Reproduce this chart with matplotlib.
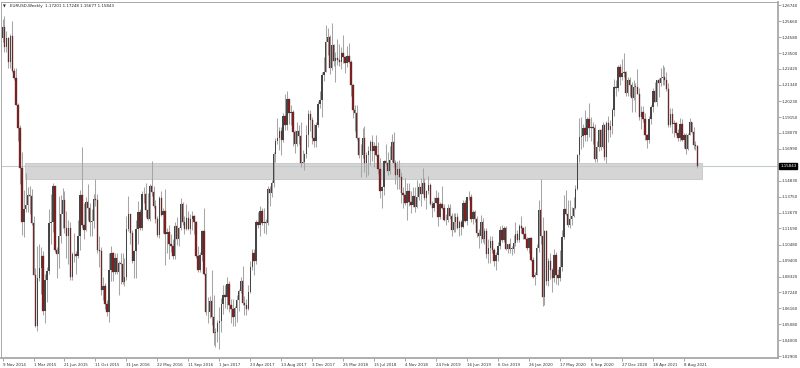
import numpy as np
import pandas as pd
import matplotlib
matplotlib.use("Agg")
import matplotlib.pyplot as plt
from matplotlib.patches import Rectangle

# ---------------- data (EURUSD weekly, prices in pips = price * 10000) ----------------
title_text = "EURUSD,Weekly  1.17201 1.17248 1.15677 1.15843"
first_week = "2014-11-09"
first_open_pips = 12450

close_pips = [
    12526, 12389, 12452, 12290, 12463, 12226, 12180, 12000,
    11842, 11567, 11204, 11290, 11315, 11389, 11380, 11196, 10844, 10495, 10822, 10890, 10970, 10600, 10808, 10873,
    11197, 11200, 11447, 11014, 10987, 11110, 11260, 11350, 11165, 11110, 11160, 10830, 10983, 10985, 10970, 11105,
    11385, 11185, 11150, 11340, 11300, 11200, 11210, 11360, 11350, 11015, 11005, 10740, 10770, 10645, 10590, 10880,
    10990, 10865, 10960, 10860,
    10925, 10915, 10795, 10830, 11155, 11255, 11130, 10935, 11005, 11155, 11270, 11165, 11390, 11395, 11285, 11225,
    11450, 11405, 11310, 11225, 11115, 11365, 11250, 11280, 11120, 11135, 11050, 11040, 10975, 11175, 11085, 11160,
    11325, 11200, 11155, 11230, 11155, 11225, 11240, 11200, 10970, 10880, 10980, 11140, 10850, 10590, 10590, 10665,
    10560, 10450, 10455, 10520,
    10530, 10645, 10705, 10695, 10785, 10640, 10615, 10560, 10620, 10670, 10735, 10800, 10650, 10640, 10615, 10725,
    10895, 10995, 10935, 11205, 11180, 11280, 11195, 11200, 11195, 11425, 11400, 11470, 11665, 11750, 11775, 11820,
    11760, 11925, 11860, 12035, 11945, 11950, 11815, 11730, 11820, 11785, 11605, 11610, 11665, 11790, 11935, 11895,
    11770, 11750, 11860, 12005,
    12030, 12200, 12220, 12425, 12460, 12250, 12405, 12295, 12315, 12305, 12290, 12350, 12325, 12280, 12330, 12290,
    12130, 11960, 11940, 11770, 11655, 11660, 11770, 11605, 11655, 11685, 11745, 11685, 11720, 11660, 11565, 11410,
    11440, 11620, 11600, 11550, 11625, 11745, 11605, 11525, 11560, 11510, 11400, 11385, 11335, 11415, 11340, 11315,
    11380, 11305, 11370, 11440,
    11395, 11470, 11365, 11410, 11455, 11325, 11295, 11335, 11365, 11235, 11325, 11300, 11215, 11215, 11300, 11245,
    11150, 11200, 11235, 11160, 11205, 11170, 11335, 11210, 11370, 11370, 11225, 11270, 11220, 11125, 11110, 11200,
    11090, 11140, 10985, 11025, 11075, 11015, 10940, 10980, 11040, 11145, 11080, 11165, 11020, 11050, 11020, 11020,
    11060, 11120, 11080, 11175,
    11160, 11120, 11090, 11025, 11095, 10945, 10830, 10845, 11025, 11285, 11105, 10695, 11140, 10805, 10935, 10875,
    10820, 10980, 10840, 10820, 10900, 11100, 11290, 11255, 11180, 11220, 11245, 11300, 11430, 11655, 11780, 11785,
    11840, 11795, 11905, 11840, 11845, 11840, 11630, 11715, 11825, 11715, 11860, 11645, 11875, 11830, 11855, 11965,
    12120, 12110, 12255, 12190,
    12215, 12220, 12080, 12170, 12135, 12045, 12120, 12120, 12075, 11915, 11950, 11905, 11795, 11760, 11900, 11985,
    12095, 12020, 12165, 12145, 12180, 12190, 12165, 12105, 11860, 11935, 11865, 11875, 11805, 11770, 11870, 11760,
    11795, 11700, 11795, 11880, 11815, 11725, 11720, 11584,
]

high_pips = [
    12578, 12601, 12500, 12456, 12480, 12570, 12250, 12250,
    12010, 11858, 11679, 11423, 11534, 11443, 11450, 11430, 11240, 10890, 11043, 11052, 11035, 11005, 10848, 10900,
    11290, 11390, 11467, 11450, 11030, 11380, 11385, 11436, 11410, 11280, 11216, 11200, 11000, 11130, 11005, 11215,
    11420, 11714, 11330, 11370, 11460, 11330, 11290, 11390, 11495, 11390, 11105, 11030, 10830, 10790, 10675, 10990,
    11043, 11000, 10990, 10990,
    10940, 10990, 10990, 10960, 11240, 11376, 11260, 11145, 11010, 11218, 11342, 11290, 11410, 11440, 11465, 11400,
    11460, 11616, 11450, 11350, 11245, 11380, 11415, 11300, 11428, 11165, 11185, 11120, 11085, 11200, 11235, 11170,
    11366, 11340, 11240, 11327, 11280, 11260, 11275, 11250, 11210, 11040, 11000, 11145, 11300, 10900, 10690, 10700,
    10875, 10710, 10480, 10540,
    10625, 10685, 10775, 10775, 10830, 10800, 10680, 10680, 10630, 10710, 10750, 10830, 10905, 10700, 10680, 10775,
    10935, 11020, 11020, 11215, 11268, 11310, 11295, 11295, 11225, 11445, 11445, 11490, 11680, 11775, 11910, 11845,
    11850, 11940, 12070, 12092, 12040, 12000, 11960, 11830, 11880, 11860, 11880, 11690, 11670, 11860, 11960, 11960,
    11915, 11865, 11880, 12025,
    12090, 12220, 12325, 12537, 12520, 12475, 12555, 12410, 12355, 12445, 12410, 12390, 12475, 12330, 12395, 12415,
    12300, 12140, 11995, 11995, 11780, 11730, 11840, 11852, 11675, 11720, 11760, 11790, 11745, 11790, 11745, 11635,
    11450, 11625, 11735, 11680, 11720, 11800, 11815, 11625, 11620, 11625, 11545, 11440, 11500, 11470, 11470, 11410,
    11440, 11440, 11485, 11470,
    11500, 11570, 11500, 11420, 11515, 11465, 11345, 11370, 11420, 11405, 11340, 11448, 11325, 11255, 11325, 11325,
    11265, 11265, 11265, 11265, 11215, 11215, 11350, 11350, 11375, 11412, 11390, 11285, 11285, 11240, 11155, 11250,
    11230, 11160, 11165, 11085, 11110, 11110, 11025, 11000, 11065, 11175, 11180, 11175, 11175, 11055, 11095, 11040,
    11115, 11200, 11150, 11190,
    11240, 11170, 11175, 11100, 11100, 11100, 10965, 10865, 11050, 11355, 11496, 11235, 11145, 11150, 10955, 10990,
    10890, 11020, 11000, 10885, 11010, 11150, 11385, 11422, 11350, 11350, 11305, 11370, 11455, 11665, 11910, 11915,
    11865, 11965, 11915, 12011, 11915, 11885, 11870, 11755, 11835, 11835, 11880, 11870, 11890, 11920, 11895, 11975,
    12175, 12165, 12272, 12275,
    12310, 12349, 12230, 12190, 12190, 12150, 12170, 12145, 12243, 12115, 11990, 11990, 11945, 11800, 11925, 11995,
    12115, 12150, 12170, 12180, 12245, 12266, 12255, 12220, 12145, 11975, 11975, 11895, 11880, 11835, 11910, 11900,
    11805, 11805, 11810, 11909, 11885, 11850, 11750, 11725,
]

low_pips = [
    12428, 12360, 12360, 12245, 12247, 12220, 12165, 11995,
    11754, 11460, 11114, 11098, 11270, 11270, 11260, 11180, 10840, 10490, 10462, 10800, 10712, 10570, 10520, 10660,
    10850, 11055, 11137, 11000, 10819, 10887, 11060, 11160, 11130, 10955, 10915, 10810, 10808, 10930, 10850, 10960,
    11015, 11160, 11085, 11140, 11215, 11105, 11110, 11160, 11310, 10995, 10896, 10705, 10675, 10615, 10565, 10524,
    10800, 10805, 10850, 10850,
    10710, 10780, 10780, 10770, 10810, 11140, 11050, 10925, 10825, 10820, 11050, 11145, 11145, 11335, 11235, 11215,
    11210, 11380, 11300, 11195, 11100, 11095, 11245, 11130, 10912, 10990, 10950, 11000, 10950, 10950, 11045, 11040,
    11145, 11185, 11120, 11150, 11150, 11120, 11150, 11120, 10960, 10860, 10860, 10940, 10840, 10570, 10517, 10550,
    10505, 10365, 10352, 10390,
    10340, 10455, 10580, 10620, 10615, 10590, 10520, 10495, 10495, 10525, 10600, 10720, 10640, 10570, 10570, 10605,
    10720, 10875, 10840, 10920, 11160, 11110, 11180, 11130, 11120, 11180, 11310, 11370, 11440, 11610, 11730, 11690,
    11660, 11745, 11825, 11825, 11870, 11860, 11720, 11670, 11720, 11730, 11575, 11600, 11555, 11640, 11715, 11820,
    11730, 11715, 11715, 11850,
    11980, 11915, 12160, 12220, 12335, 12205, 12235, 12260, 12155, 12270, 12260, 12240, 12285, 12215, 12255, 12280,
    12055, 11910, 11820, 11760, 11640, 11510, 11640, 11540, 11510, 11525, 11590, 11615, 11575, 11650, 11530, 11365,
    11301, 11385, 11590, 11525, 11530, 11610, 11575, 11460, 11430, 11430, 11335, 11300, 11320, 11216, 11310, 11265,
    11305, 11270, 11300, 11350,
    11310, 11390, 11350, 11290, 11390, 11320, 11235, 11280, 11330, 11175, 11220, 11290, 11210, 11185, 11205, 11225,
    11110, 11135, 11135, 11155, 11107, 11115, 11160, 11200, 11180, 11350, 11205, 11190, 11200, 11100, 11027, 11060,
    11065, 11050, 10960, 10926, 10925, 10990, 10905, 10879, 10940, 11020, 11070, 11070, 11015, 10990, 10990, 10980,
    10990, 11040, 11065, 11070,
    11125, 11090, 11085, 11015, 10990, 10940, 10825, 10778, 10840, 11000, 11055, 10635, 10636, 10775, 10770, 10815,
    10725, 10795, 10780, 10775, 10800, 10870, 11090, 11250, 11170, 11165, 11185, 11235, 11290, 11420, 11610, 11695,
    11710, 11755, 11750, 11780, 11750, 11735, 11612, 11610, 11685, 11690, 11705, 11622, 11602, 11745, 11780, 11800,
    11925, 12060, 12090, 12130,
    12170, 12190, 12055, 12055, 12060, 11950, 12030, 11950, 12070, 11895, 11835, 11880, 11760, 11704, 11740, 11870,
    11950, 12015, 11990, 12050, 12125, 12135, 12135, 12095, 11845, 11845, 11805, 11780, 11795, 11750, 11755, 11755,
    11705, 11664, 11690, 11790, 11810, 11700, 11690, 11568,
]

date_labels = ["9 Nov 2014", "1 Mar 2015", "21 Jun 2015", "11 Oct 2015", "31 Jan 2016", "22 May 2016",
               "11 Sep 2016", "1 Jan 2017", "23 Apr 2017", "13 Aug 2017", "3 Dec 2017", "25 Mar 2018",
               "15 Jul 2018", "4 Nov 2018", "24 Feb 2019", "16 Jun 2019", "6 Oct 2019", "26 Jan 2020",
               "17 May 2020", "6 Sep 2020", "27 Dec 2020", "18 Apr 2021", "8 Aug 2021"]

price_labels = ["1.26740", "1.25660", "1.24580", "1.23500", "1.22420", "1.21340", "1.20230", "1.19150",
                "1.18070", "1.16990", "1.14830", "1.13750", "1.12670", "1.11590", "1.10480", "1.09400",
                "1.08320", "1.07240", "1.06160", "1.05080", "1.04000", "1.02900"]

current_price = 1.15843
zone_top = 1.1605
zone_bottom = 1.1495
zone_start_date = "2015-01-31"
zone_end_date = "2021-10-11"

# ---------------- derived arrays ----------------
n = len(close_pips)
assert n == len(high_pips) == len(low_pips) == 360
closes = np.array(close_pips) / 1e4
opens = np.concatenate([[first_open_pips / 1e4], closes[:-1]])
highs = np.maximum(np.array(high_pips) / 1e4, np.maximum(opens, closes))
lows = np.minimum(np.array(low_pips) / 1e4, np.minimum(opens, closes))
weeks = pd.date_range(first_week, periods=n, freq="W-SUN")
idx = np.arange(n)

def week_pos(d):
    return (pd.Timestamp(d) - weeks[0]).days / 7.0

# ---------------- figure ----------------
W, H = 800, 368
fig = plt.figure(figsize=(W / 100, H / 100), dpi=100)
fig.patch.set_facecolor("white")
L, R, T, B = 1.0, 777.5, 2.0, 358.0
ax = fig.add_axes([L / W, (H - B) / H, (R - L) / W, (B - T) / H])
ax.set_facecolor("white")

ax.set_xlim(-0.8, 400.4)
ax.set_ylim(1.02792, 1.26964)

# support / resistance zone
zx0, zx1 = week_pos(zone_start_date), week_pos(zone_end_date)
ax.add_patch(Rectangle((zx0, zone_bottom), zx1 - zx0, zone_top - zone_bottom,
                       facecolor="#d5d5d5", edgecolor="#c6c6c6", lw=0.6, zorder=1))
ax.axhline(current_price, color="#c3cad2", lw=0.8, zorder=1.5)

# candles
ax.vlines(idx, lows, highs, color="#a6a6a6", lw=0.75, zorder=2)
bull = closes >= opens
bear = ~bull
body_lo = np.minimum(opens, closes)
body_h = np.maximum(np.abs(closes - opens), 0.0004)
ax.bar(idx[bull], body_h[bull], bottom=body_lo[bull], width=0.72,
       color="#454545", lw=0, zorder=3)
ax.bar(idx[bear], body_h[bear], bottom=body_lo[bear], width=0.72,
       color="#8e1b1b", edgecolor="#3c3c3c", lw=0.25, zorder=3)

# spines
for s in ["top", "left"]:
    ax.spines[s].set_color("#a8a8a8")
    ax.spines[s].set_linewidth(0.7)
for s in ["bottom", "right"]:
    ax.spines[s].set_color("#a8a8a8")
    ax.spines[s].set_linewidth(1.3)

fs = 2.9
# right price axis
ax.yaxis.tick_right()
ax.set_yticks([float(v) for v in price_labels])
ax.set_yticklabels(price_labels)
ax.tick_params(axis="y", which="both", length=2, width=0.5, color="#808080",
               labelsize=fs, pad=1.2, labelcolor="#303030", left=False, right=True)

# date axis
tick_pos = [week_pos(pd.Timestamp(d)) for d in date_labels]
ax.set_xticks(tick_pos)
ax.set_xticklabels(date_labels)
ax.tick_params(axis="x", length=2.5, width=0.5, color="#808080",
               labelsize=fs, pad=1.0, labelcolor="#303030")
for lab in ax.get_xticklabels():
    lab.set_horizontalalignment("left")

# current price label
ax.text(1.0035, current_price, "1.15843", transform=ax.get_yaxis_transform(),
        fontsize=fs, color="white", va="center", ha="left", zorder=10, clip_on=False,
        bbox=dict(boxstyle="square,pad=0.25", facecolor="black", edgecolor="black"))

# title
ax.text(0.003, 0.993, "\u25bc", transform=ax.transAxes, fontsize=2.6, color="#202020",
        va="top", ha="left")
ax.text(0.011, 0.993, title_text, transform=ax.transAxes, fontsize=fs, color="#202020",
        va="top", ha="left")

fig.savefig("out.png", dpi=100, facecolor="white")
